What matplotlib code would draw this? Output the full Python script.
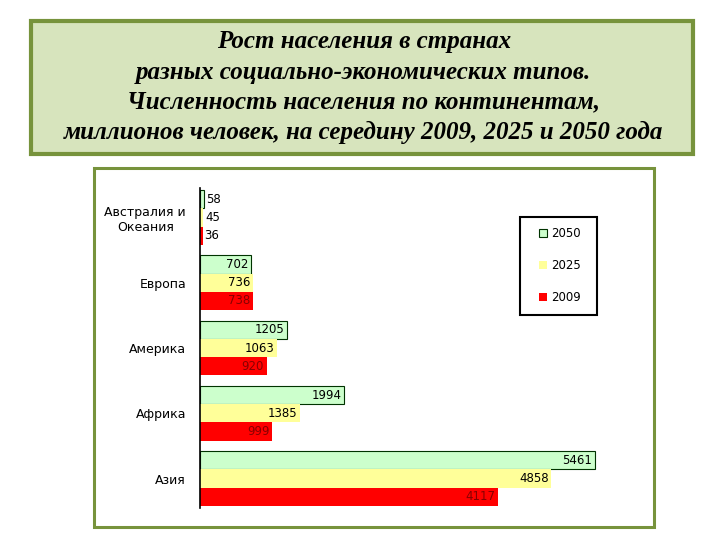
import matplotlib.pyplot as plt
from matplotlib.patches import Rectangle
import numpy as np

# data: continents bottom-to-top, population in millions
continents = ['Азия', 'Африка', 'Америка', 'Европа', 'Австралия и\nОкеания']
pop_2050 = [5461, 1994, 1205, 702, 58]
pop_2025 = [4858, 1385, 1063, 736, 45]
pop_2009 = [4117, 999, 920, 738, 36]
years = ['2050', '2025', '2009']

title_lines = ['Рост населения в странах',
               'разных социально-экономических типов.',
               'Численность населения по континентам,',
               'миллионов человек, на середину 2009, 2025 и 2050 года']

green_border = '#77933c'
fig = plt.figure(figsize=(7.2, 5.4), dpi=100)
W, H = 720, 540


def px_rect(x0, y0, x1, y1, zorder=-1, **kw):
    """Rectangle given in pixel coords from top-left"""
    r = Rectangle((x0 / W, 1 - y1 / H), (x1 - x0) / W, (y1 - y0) / H,
                  transform=fig.transFigure, zorder=zorder, **kw)
    fig.patches.append(r)


# title box
px_rect(31, 21, 693, 154, facecolor='#d7e4bd', edgecolor=green_border, linewidth=3)
line_y = [42, 72, 102, 132]
for txt, y in zip(title_lines, line_y):
    fig.text(0.505, 1 - y / H, txt, ha='center', va='center', fontsize=18,
             family='Liberation Serif', weight='bold', style='italic')

# chart box
px_rect(94, 168, 654, 527, facecolor='white', edgecolor=green_border, linewidth=2.2)

ax = fig.add_axes([200 / W, (H - 508) / H, 434 / W, 320 / H])
ax.set_zorder(2)
ax.patch.set_alpha(0)

y = np.arange(len(continents))
h = 0.28
series = [
    (pop_2050, +h, '#ccffcc', '#003300', 0.8, 'black'),
    (pop_2025, 0, '#ffff99', '#ffff99', 0, 'black'),
    (pop_2009, -h, '#ff0000', '#ff0000', 0, '#880000'),
]
for (vals, off, fc, ec, lw, tc), lab in zip(series, years):
    ax.barh(y + off, vals, height=h, color=fc, edgecolor=ec, linewidth=lw, label=lab)
    for yi, v in zip(y, vals):
        if v < 200:
            ax.text(v + 25, yi + off, str(v), ha='left', va='center',
                    fontsize=8.5, color='black')
        else:
            ax.text(v - 40, yi + off, str(v), ha='right', va='center',
                    fontsize=8.5, color=tc)

ax.set_xlim(0, 6000)
ax.set_ylim(-0.45, 4.45)
ax.set_yticks(y)
ax.set_yticklabels(continents, fontsize=9)
for t in ax.get_yticklabels():
    t.set_multialignment('center')
ax.tick_params(axis='y', length=0, pad=10)
ax.set_xticks([])
for s in ['top', 'right', 'bottom']:
    ax.spines[s].set_visible(False)
ax.spines['left'].set_linewidth(1.2)

# legend: entries without frame, box drawn separately to match the wide Excel box
leg = ax.legend(loc='upper left', bbox_to_anchor=(539 / W, 1 - 227 / H),
                bbox_transform=fig.transFigure, fontsize=8.5, frameon=False,
                handlelength=0.7, handleheight=0.7, labelspacing=1.6,
                borderpad=0, handletextpad=0.3, borderaxespad=0)
px_rect(520, 217, 597, 315, zorder=3, facecolor='none', edgecolor='black', linewidth=1.5)

fig.savefig('out.png', dpi=100)
